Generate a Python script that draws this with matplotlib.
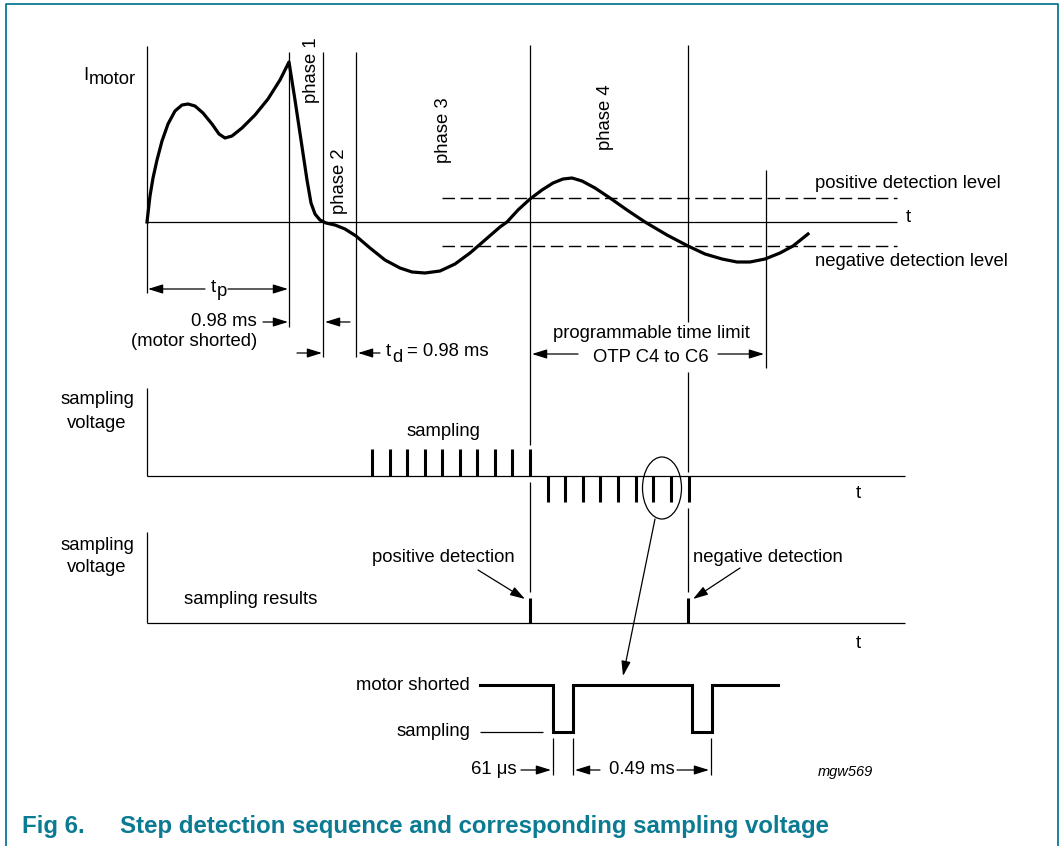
import matplotlib.pyplot as plt
from matplotlib.patches import Ellipse

plt.rcParams['font.family'] = ['Liberation Sans', 'DejaVu Sans']

# ------------------------------------------------------------
#   diagram values (pixel-like units, y grows downwards)
# ------------------------------------------------------------
# motor current curve
curve_x = [147, 150, 153, 157, 162, 168, 175, 182, 188, 195, 203, 212, 219, 225,
           232, 242, 255, 268, 280, 289, 295, 301, 307, 311, 315, 320, 326, 335,
           345, 356, 370, 385, 400, 412, 425, 440, 455, 470, 485, 500, 507, 518,
           530, 542, 553, 563, 572, 582, 595, 610, 627, 645, 667, 688, 705, 722,
           737, 750, 765, 780, 793, 808]
curve_y = [222, 196, 178, 160, 141, 124, 111, 105, 104, 106, 113, 124, 134, 138,
           136, 128, 115, 99, 80, 62, 100, 140, 180, 203, 214, 220, 223, 225,
           229, 236, 248, 260, 268, 272, 273, 271, 264, 253, 240, 227, 222, 210,
           199, 190, 183, 179, 178, 181, 188, 198, 210, 222, 235, 246, 254, 259,
           262, 262, 259, 253, 246, 234]

pos_level = 198
neg_level = 246
zero_level = 222

phase_labels = ['phase 1', 'phase 2', 'phase 3', 'phase 4']
phase_label_x = [311, 340, 443, 606]
phase_label_y = [70, 181, 130, 117]

# sampling pulses (first sampling voltage trace)
sample_up_x = [372, 389.5, 407, 424.5, 442, 459.5, 477, 494.5, 512, 530]
sample_down_x = [547.5, 565, 582.5, 600, 618, 635.5, 653, 671, 688.5]

# sampling results
result_x = [530, 688]

# zoomed pulse train
pulse_x = [480, 553, 553, 573, 573, 692, 692, 712, 712, 778]
pulse_y = [685, 685, 732, 732, 685, 685, 732, 732, 685, 685]

FS = 13.3
teal = '#0b7a93'

fig = plt.figure(figsize=(10.63, 8.46), dpi=100)
ax = fig.add_axes([0, 0, 1, 1])
ax.set_xlim(0, 1063)
ax.set_ylim(846, 0)
ax.axis('off')


def vline(x, y0, y1, lw=0.9, color='k'):
    ax.plot([x, x], [y0, y1], color=color, lw=lw, solid_capstyle='butt')


def hline(y, x0, x1, lw=0.9, color='k'):
    ax.plot([x0, x1], [y, y], color=color, lw=lw, solid_capstyle='butt')


def arrow(x0, y0, x1, y1):
    ax.annotate('', xy=(x1, y1), xytext=(x0, y0),
                arrowprops=dict(arrowstyle='-|>,head_length=0.9,head_width=0.28',
                                color='k', lw=0.9, shrinkA=0, shrinkB=0))


def txt(x, y, s, **kw):
    kw.setdefault('fontsize', FS)
    kw.setdefault('va', 'center')
    ax.text(x, y, s, color='k', **kw)


# frame
ax.plot([5.5, 5.5, 1057.5, 1057.5], [846, 4.5, 4.5, 846], color=teal, lw=1.3)

# ---------------- motor current plot ----------------
vline(147, 46, 293)
hline(zero_level, 147, 897)
txt(906, 218, 't')
txt(83, 75, 'I')
txt(88.5, 79, 'motor')

vline(289, 52, 327)
vline(323, 52, 357)
vline(356, 52, 357)
vline(530, 45, 445)
vline(530, 482, 592)
vline(688, 45, 322)
vline(688, 372, 472)
vline(688, 508, 592)
vline(766, 170, 368)

for s, x, y in zip(phase_labels, phase_label_x, phase_label_y):
    txt(x, y, s, rotation=90, ha='center')

ax.plot([442, 897], [pos_level, pos_level], color='k', lw=1.0, dashes=(9, 4))
ax.plot([442, 897], [neg_level, neg_level], color='k', lw=1.0, dashes=(9, 4))
txt(815, 183, 'positive detection level')
txt(815, 261, 'negative detection level')

ax.plot(curve_x, curve_y, color='k', lw=2.3, solid_joinstyle='round')

# tp
arrow(205, 289, 148, 289)
arrow(228, 289, 288, 289)
txt(211, 287, 't')
txt(217, 292, 'p')
# 0.98 ms (motor shorted)
txt(257, 322, '0.98 ms', ha='right')
txt(257, 342, '(motor shorted)', ha='right')
arrow(263, 322, 288, 322)
arrow(350, 322, 325, 322)
arrow(297, 353, 322, 353)
arrow(380, 353, 358, 353)
txt(386, 352, 't')
txt(392, 357, 'd')
txt(407, 352, '= 0.98 ms')

txt(651, 334, 'programmable time limit', ha='center')
txt(651, 357, 'OTP C4 to C6', ha='center')
arrow(578, 354, 532, 354)
arrow(718, 354, 764, 354)

# ---------------- sampling voltage ----------------
txt(97, 400, 'sampling', ha='center')
txt(97, 423, 'voltage', ha='center')
vline(147, 388, 476)
hline(476, 147, 905)
txt(856, 494, 't')
txt(443, 432, 'sampling', ha='center')
for x in sample_up_x:
    vline(x, 449, 476, lw=2.2)
for x in sample_down_x:
    vline(x, 476, 502, lw=2.2)
ax.add_patch(Ellipse((662, 488), 39, 62, fill=False, lw=0.9, color='k'))
arrow(655, 519, 623, 676)

# ---------------- sampling results ----------------
txt(97, 545, 'sampling', ha='center')
txt(97, 567, 'voltage', ha='center')
vline(147, 532, 623)
hline(623, 147, 905)
txt(856, 643, 't')
txt(184, 599, 'sampling results')
txt(443, 558, 'positive detection', ha='center')
txt(768, 557, 'negative detection', ha='center')
for x in result_x:
    vline(x, 598, 623, lw=2.2)
arrow(478, 570, 525, 599)
arrow(740, 568, 693, 599)

# ---------------- zoomed pulses ----------------
txt(470, 685, 'motor shorted', ha='right')
txt(470, 731, 'sampling', ha='right')
hline(732, 480, 543)
ax.plot(pulse_x, pulse_y, color='k', lw=2.2, solid_joinstyle='miter')
vline(553, 738, 775)
vline(573, 738, 775)
vline(711, 738, 775)
txt(517, 770, '61 \u03bcs', ha='right')
arrow(521, 770, 551, 770)
arrow(600, 770, 575, 770)
txt(642, 770, '0.49 ms', ha='center')
arrow(677, 770, 709, 770)
txt(845, 772, 'mgw569', ha='center', fontsize=10.5, style='italic')

# caption
cap = dict(fontsize=17.3, fontweight='bold', color=teal, family='Liberation Sans')
ax.text(22, 826, 'Fig 6.', va='center', **cap)
ax.text(120, 826, 'Step detection sequence and corresponding sampling voltage',
        va='center', **cap)

fig.savefig('out.png', dpi=100)
